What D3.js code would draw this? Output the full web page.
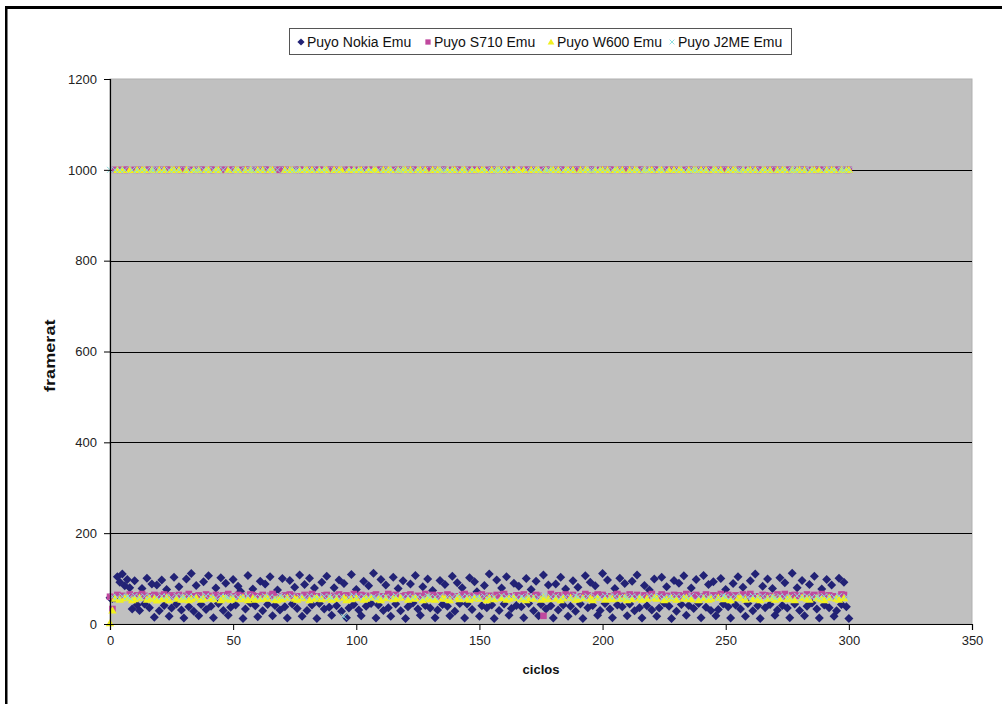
<!DOCTYPE html>
<html><head><meta charset="utf-8">
<script src="https://cdn.jsdelivr.net/npm/d3@7"></script>
<style>
html,body{margin:0;padding:0;background:#fff;}
svg text{font-family:"Liberation Sans",Arial,sans-serif;}
</style></head>
<body><svg id="c" width="1002" height="704"></svg>
<script>
// ---- data (cycle index = array position, 0..300) ----
const seriesNames = ["Puyo Nokia Emu","Puyo S710 Emu","Puyo W600 Emu","Puyo J2ME Emu"];
const yTicks = [0,200,400,600,800,1000,1200];
const xTicks = [0,50,100,150,200,250,300,350];

const nokia = [58,56,57,104,92,110,84,98,80,33,95,42,30,78,44,101,36,88,
15,86,29,97,41,76, 17,35,103,44,82,31, 13,99,38,111,28,85, 18,43,93,32,106,39,
14,79,45,102,30,90, 19,37,98,42,83,72, 12,33,107,46,77,40, 16,94,29,88,43,104,
18,41,75,31,100,38, 13,96,44,81,34,108, 17,87,30,101,42,79, 12,45,92,33,105,37,
19,80,40,97,28,89, 14,35,109,43,76,31, 18,94,39,84,45,112, 13,42,98,30,86,36,
17,103,44,78,29,95, 12,38,88,46,107,33, 19,82,41,99,35,74, 14,31,96,43,87,39,
18,105,28,91,45,80, 13,44,102,32,93,71, 17,40,85,36,110,42, 12,97,30,79,44,104,
19,34,90,41,83,38, 14,100,45,76,29,94, 18,43,108,33,86,40, 13,88,31,103,42,77,
17,39,95,28,81,44, 12,106,36,92,41,84, 19,30,111,45,97,33, 14,78,42,101,38,89,
18,44,94,29,108,36, 13,85,40,75,31,99, 17,35,103,46,82,39, 12,96,28,90,43,106,
19,41,79,34,98,45, 14,107,37,87,30,93, 18,32,100,44,76,38, 13,89,42,104,33,81,
17,45,95,29,110,40, 12,83,36,99,43,78, 19,31,102,41,91,35, 14,112,44,80,30,96,
18,39,87,46,105,33, 13,77,42,98,36,86, 17,29,101,43,92,38, 12];

const s710 = [60,33,1000,64,1000,62,1000,1000,65,61,
1000,63,1000,66,62,1000,1000,61,64,1000, 62,1000,65,1000,1000,63,61,1000,64,1000,
1000,62,66,1000,61,1000,63,1000,1000,65, 62,1000,1000,64,61,1000,63,1000,66,1000,
1000,61,64,1000,62,1000,1000,65,63,1000, 61,1000,64,1000,1000,62,66,1000,61,1000,
1000,63,1000,65,62,1000,61,1000,1000,64, 62,1000,66,1000,61,1000,1000,63,64,1000,
1000,62,1000,65,61,1000,63,1000,1000,66, 61,1000,64,1000,62,1000,1000,63,65,1000,
1000,61,1000,66,62,1000,64,1000,1000,61, 63,1000,65,1000,1000,62,61,1000,66,1000,
1000,64,1000,61,63,1000,1000,65,62,1000, 61,1000,1000,64,66,1000,62,1000,1000,63,
1000,65,61,1000,62,1000,1000,64,63,1000, 66,1000,61,1000,1000,63,62,1000,65,1000,
1000,61,1000,64,62,1000,18,1000,1000,66, 61,1000,63,1000,1000,65,62,1000,64,1000,
1000,61,1000,66,63,1000,1000,62,65,1000, 64,1000,61,1000,1000,63,66,1000,62,1000,
1000,65,1000,61,64,1000,1000,63,62,1000, 66,1000,1000,61,65,1000,62,1000,1000,64,
1000,63,61,1000,66,1000,1000,62,64,1000, 61,1000,65,1000,1000,63,62,1000,66,1000,
1000,64,1000,61,63,1000,1000,65,62,1000, 66,1000,61,1000,1000,64,63,1000,62,1000,
1000,65,1000,61,66,1000,1000,63,64,1000, 62,1000,1000,65,61,1000,64,1000,1000,66,
1000,62,63,1000,61,1000,1000,65,64,1000, 1000];

const w600 = [2,30,56,1000,54,1000,57,58,1000,53,
55,1000,58,1000,1000,54,57,1000,56,52, 1000,55,1000,58,53,1000,1000,56,1000,54,
57,1000,53,55,1000,58,1000,54,56,1000, 1000,57,55,1000,1000,53,58,56,1000,54,
56,1000,1000,55,58,1000,53,1000,57,54, 1000,55,1000,58,56,1000,1000,54,53,57,
55,1000,58,1000,1000,56,54,1000,57,1000, 1000,53,1000,56,58,1000,55,1000,1000,57,
54,1000,56,1000,1000,58,53,1000,55,1000, 57,1000,1000,54,56,1000,58,1000,1000,55,
53,1000,57,1000,1000,55,56,1000,58,1000, 1000,54,1000,56,57,1000,1000,53,1000,58,
55,1000,54,1000,1000,57,56,1000,53,1000, 1000,58,55,1000,1000,56,54,1000,57,1000,
56,1000,1000,53,58,1000,55,1000,1000,57, 1000,54,56,1000,58,1000,1000,55,1000,53,
57,1000,56,1000,1000,54,58,1000,55,1000, 1000,56,1000,53,57,1000,1000,58,1000,54,
55,1000,57,1000,1000,56,53,1000,58,1000, 1000,54,1000,57,55,1000,1000,56,1000,58,
53,1000,55,1000,1000,57,54,1000,56,1000, 1000,58,56,1000,1000,53,55,1000,57,1000,
54,1000,1000,56,58,1000,55,1000,1000,53, 1000,57,1000,54,56,1000,1000,58,1000,55,
56,1000,53,1000,1000,57,58,1000,54,1000, 1000,55,1000,57,53,1000,1000,56,1000,58,
54,1000,56,1000,1000,55,57,1000,53,1000, 1000,58,1000,56,54,1000,1000,57,1000,55,
53,1000,58,1000,1000,56,54,1000,57,1000, 1000];

const j2me = [1000,60,1000,59,1000,61,1000,60,58,1000,
62,1000,59,1000,61,1000,60,1000,1000,59, 1000,61,1000,60,1000,58,1000,62,1000,60,
59,1000,61,1000,60,1000,1000,59,1000,62, 1000,60,1000,58,1000,61,1000,60,59,1000,
61,1000,59,1000,60,1000,62,1000,1000,60, 1000,59,1000,61,1000,60,1000,58,1000,62,
60,1000,59,1000,61,1000,1000,60,1000,59, 1000,62,1000,60,1000,59,1000,61,1000,60,
58,1000,61,1000,60,16,1000,59,1000,62, 1000,60,1000,61,1000,59,1000,60,58,1000,
61,1000,60,1000,59,1000,62,1000,1000,60, 1000,61,1000,59,1000,60,1000,58,1000,62,
60,1000,59,1000,61,1000,1000,60,1000,59, 1000,62,1000,60,1000,61,1000,59,1000,60,
58,1000,61,1000,60,1000,59,1000,1000,62, 1000,60,1000,61,1000,59,1000,60,58,1000,
61,1000,60,1000,59,1000,62,1000,1000,60, 1000,61,1000,59,1000,60,1000,58,1000,62,
60,1000,59,1000,61,1000,1000,60,1000,59, 1000,62,1000,60,1000,61,1000,59,1000,60,
58,1000,61,1000,60,1000,59,1000,1000,62, 1000,60,1000,61,1000,59,1000,60,58,1000,
61,1000,60,1000,59,1000,62,1000,1000,60, 1000,61,1000,59,1000,60,1000,58,1000,62,
60,1000,59,1000,61,1000,1000,60,1000,59, 1000,62,1000,60,1000,61,1000,59,1000,60,
58,1000,61,1000,60,1000,59,1000,1000,62, 1000,60,1000,61,1000,59,1000,60,58,1000,
61,1000,60,1000,59,1000,62,1000,1000,60, 1000];

const allSeries = [nokia, s710, w600, j2me];
const colors = ["#222275","#c0489e","#f0f020","#8adcdc"];

// ---- layout ----
const svg = d3.select("#c");
const P = {l:110, r:972, t:79, b:624};
const x = d3.scaleLinear().domain([0,350]).range([P.l,P.r]);
const y = d3.scaleLinear().domain([0,1200]).range([P.b,P.t]);

// frame
svg.append("rect").attr("x",5).attr("y",6).attr("width",997).attr("height",3).attr("fill","#000");
svg.append("rect").attr("x",5).attr("y",6).attr("width",2.5).attr("height",698).attr("fill","#000");

// plot area
svg.append("rect").attr("x",P.l).attr("y",P.t).attr("width",P.r-P.l).attr("height",P.b-P.t)
  .attr("fill","#c0c0c0").attr("stroke","#b0b0b0").attr("stroke-width",1);

// gridlines
svg.append("g").selectAll("line").data(yTicks.filter(v=>v>0 && v<1200)).join("line")
  .attr("x1",P.l).attr("x2",P.r).attr("y1",d=>Math.round(y(d))+0.5).attr("y2",d=>Math.round(y(d))+0.5)
  .attr("stroke","#000").attr("stroke-width",1);

// markers
const shapes = [
  "M0,-4.5L4.5,0L0,4.5L-4.5,0Z",
  "M-3.3,-3.3H3.3V3.3H-3.3Z",
  "M0,-4.2L4.2,3.2H-4.2Z",
  "M-3,-3L3,3M3,-3L-3,3"
];
allSeries.forEach((arr,si)=>{
  const g = svg.append("g");
  const sel = g.selectAll("path").data(arr.map((v,i)=>[i,v])).join("path")
    .attr("transform",d=>`translate(${x(d[0])},${y(d[1])})`)
    .attr("d",shapes[si]);
  if(si===3) sel.attr("fill","none").attr("stroke",colors[si]).attr("stroke-width",1);
  else sel.attr("fill",colors[si]);
});

// axes
const ya = svg.append("g").attr("transform",`translate(${P.l},0)`)
  .call(d3.axisLeft(y).tickValues(yTicks).tickSize(6).tickPadding(7).tickFormat(d3.format("d")));
const xa = svg.append("g").attr("transform",`translate(0,${P.b})`)
  .call(d3.axisBottom(x).tickValues(xTicks).tickSize(6).tickPadding(6).tickFormat(d3.format("d")));
[ya,xa].forEach(a=>{
  a.select(".domain").attr("stroke","#000").attr("stroke-width",1.2);
  a.selectAll(".tick line").attr("stroke","#000");
  a.selectAll(".tick text").attr("font-size",13).attr("fill","#222")
   .attr("font-family","Liberation Sans, Arial, sans-serif");
});

// axis titles
svg.append("text").attr("x",(P.l+P.r)/2).attr("y",674).attr("text-anchor","middle")
  .attr("font-size",13).attr("font-weight","bold").attr("fill","#111").text("ciclos");
svg.append("clipPath").attr("id","yclip").append("rect").attr("x",0).attr("y",319).attr("width",100).attr("height",200);
svg.append("g").attr("clip-path","url(#yclip)").append("text")
  .attr("transform","translate(55,392) rotate(-90) scale(1.25,1)").attr("text-anchor","start")
  .attr("font-size",14.5).attr("font-weight","bold").attr("fill","#111").text("framerate");

// legend
const lg = svg.append("g");
lg.append("rect").attr("x",289.5).attr("y",28.5).attr("width",502).attr("height",26)
  .attr("fill","#fff").attr("stroke","#555").attr("stroke-width",1);
const lx = [301,428,551,672];
seriesNames.forEach((n,i)=>{
  const mk = lg.append("path").attr("transform",`translate(${lx[i]},42) scale(0.8)`).attr("d",shapes[i]);
  if(i===3) mk.attr("fill","none").attr("stroke",colors[i]).attr("stroke-width",1.2);
  else mk.attr("fill",colors[i]);
  lg.append("text").attr("x",lx[i]+6).attr("y",47).attr("font-size",14).attr("fill","#111").text(n);
});
</script></body></html>
